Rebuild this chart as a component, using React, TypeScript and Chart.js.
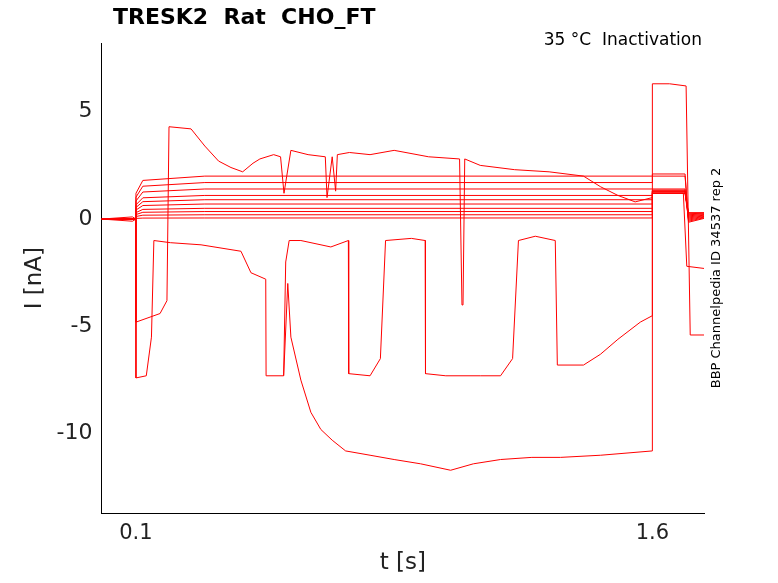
import { useEffect, useRef } from "react";
import Chart from "chart.js/auto";

// step levels (nA) of the steady traces during the 0.1–1.6 s pulse
const stepLevels = [0.05, 0.2, 0.35, 0.5, 0.7, 0.9, 1.1, 1.4, 1.7, 2.0];
const tailLevels = [1.2, 1.25, 1.3, 1.3, 1.35, 1.3, 1.2, 1.4, 2.0, 2.1];

const highX = [0, 0.09, 0.1, 0.1, 0.17, 0.19, 0.196, 0.26, 0.3, 0.34, 0.376, 0.41, 0.44, 0.46, 0.5, 0.52, 0.53, 0.55, 0.6, 0.65, 0.655, 0.67, 0.68, 0.685, 0.72, 0.78, 0.85, 0.95, 1.04, 1.047, 1.05, 1.055, 1.1, 1.2, 1.3, 1.4, 1.45, 1.5, 1.55, 1.6];
const highY = [0, 0.1, 0, -4.8, -4.4, -3.8, 4.3, 4.2, 3.4, 2.7, 2.4, 2.2, 2.6, 2.8, 3.0, 2.9, 1.2, 3.2, 3.0, 2.9, 1.0, 2.9, 1.3, 3.0, 3.1, 3.0, 3.2, 2.9, 2.8, -4.0, -4.0, 2.8, 2.5, 2.3, 2.2, 2.0, 1.5, 1.1, 0.8, 1.0];

const lowX = [0, 0.09, 0.1, 0.1, 0.13, 0.145, 0.152, 0.2, 0.289, 0.405, 0.434, 0.477, 0.478, 0.529, 0.535, 0.545, 0.579, 0.666, 0.717, 0.718, 0.78, 0.81, 0.825, 0.9, 0.94, 0.941, 1.0, 1.1, 1.159, 1.194, 1.211, 1.26, 1.318, 1.324, 1.4, 1.449, 1.5, 1.565, 1.6, 1.6, 1.69, 1.7, 1.75];
const lowY = [0, -0.1, 0, -7.4, -7.3, -5.5, -1.0, -1.1, -1.2, -1.5, -2.5, -2.8, -7.3, -7.3, -2.0, -1.0, -1.0, -1.3, -1.0, -7.2, -7.3, -6.5, -1.0, -0.9, -1.0, -7.2, -7.3, -7.3, -7.3, -6.5, -1.0, -0.8, -1.0, -6.8, -6.8, -6.3, -5.6, -4.8, -4.5, 1.2, 1.2, -2.2, -2.3];

const bottomX = [0.529, 0.541, 0.55, 0.579, 0.608, 0.637, 0.67, 0.709, 0.78, 0.85, 0.927, 1.014, 1.08, 1.159, 1.25, 1.333, 1.45, 1.6, 1.6, 1.65, 1.698, 1.71, 1.75];
const bottomY = [-7.3, -3, -5.5, -7.5, -9.0, -9.8, -10.3, -10.8, -11.0, -11.2, -11.4, -11.7, -11.4, -11.2, -11.1, -11.1, -11.0, -10.8, 6.3, 6.3, 6.2, -5.4, -5.4];

const xTicks = [0.1, 1.6];
const yTicks = [5, 0, -5, -10];

const pts = (xs: number[], ys: number[]) => xs.map((x, i) => ({ x, y: ys[i] }));

export default function App() {
  const ref = useRef<HTMLCanvasElement>(null);

  useEffect(() => {
    document.body.style.margin = "0";
    const steps = stepLevels.map((lv, i) => ({
      data: [
        { x: 0, y: 0 }, { x: 0.1, y: 0 }, { x: 0.1, y: lv * 0.6 }, { x: 0.12, y: lv * 0.9 },
        { x: 0.3, y: lv }, { x: 1.6, y: lv }, { x: 1.6, y: tailLevels[i] },
        { x: 1.695, y: tailLevels[i] }, { x: 1.705, y: 0.3 - i * 0.05 }, { x: 1.75, y: 0.3 - i * 0.03 },
      ],
    }));
    const sets = [
      ...steps,
      { data: pts(highX, highY) },
      { data: pts(lowX, lowY) },
      { data: pts(bottomX, bottomY) },
    ].map((d) => ({ ...d, borderColor: "#ff0000", borderWidth: 1, pointRadius: 0, fill: false, tension: 0 }));

    const textPlugin = {
      id: "texts",
      afterDraw(c: any) {
        const ctx = c.ctx;
        ctx.save();
        ctx.fillStyle = "#000";
        ctx.font = "bold 22px 'DejaVu Sans'";
        ctx.textBaseline = "middle";
        ctx.fillText("TRESK2  Rat  CHO_FT", 113, 18);
        ctx.font = "17px 'DejaVu Sans'";
        ctx.textAlign = "right";
        ctx.fillText("35 °C  Inactivation", 702, 41);
        ctx.translate(717, 278);
        ctx.rotate(-Math.PI / 2);
        ctx.textAlign = "center";
        ctx.font = "13px 'DejaVu Sans'";
        ctx.fillText("BBP Channelpedia ID 34537 rep 2", 0, 0);
        ctx.restore();
      },
    };

    const chart = new Chart(ref.current!, {
      type: "line",
      data: { datasets: sets as any },
      options: {
        animation: false,
        responsive: false,
        parsing: false as any,
        layout: { padding: { top: 43, right: 74, left: 17, bottom: 6 } },
        plugins: { legend: { display: false }, tooltip: { enabled: false } },
        scales: {
          x: {
            type: "linear", min: 0.0, max: 1.75,
            afterBuildTicks: (s: any) => { s.ticks = xTicks.map((v) => ({ value: v })); },
            grid: { display: false, drawTicks: true, tickLength: 5 },
            border: { color: "#000" },
            ticks: { color: "#222", font: { size: 21, family: "DejaVu Sans" }, maxRotation: 0, callback: (v: any) => String(v) },
            title: { display: true, text: "t [s]", color: "#222", font: { size: 23, family: "DejaVu Sans" }, padding: 0 },
          },
          y: {
            min: -13.7, max: 8.2,
            afterBuildTicks: (s: any) => { s.ticks = yTicks.map((v) => ({ value: v })); },
            grid: { display: false, tickLength: 5 },
            border: { color: "#000" },
            ticks: { color: "#222", font: { size: 22, family: "DejaVu Sans" }, padding: 4 },
            title: { display: true, text: "I [nA]", color: "#222", font: { size: 23, family: "DejaVu Sans" }, padding: 4 },
          },
        },
      },
      plugins: [textPlugin],
    });
    return () => chart.destroy();
  }, []);

  return <canvas ref={ref} width={778} height={583} style={{ display: "block" }} />;
}
